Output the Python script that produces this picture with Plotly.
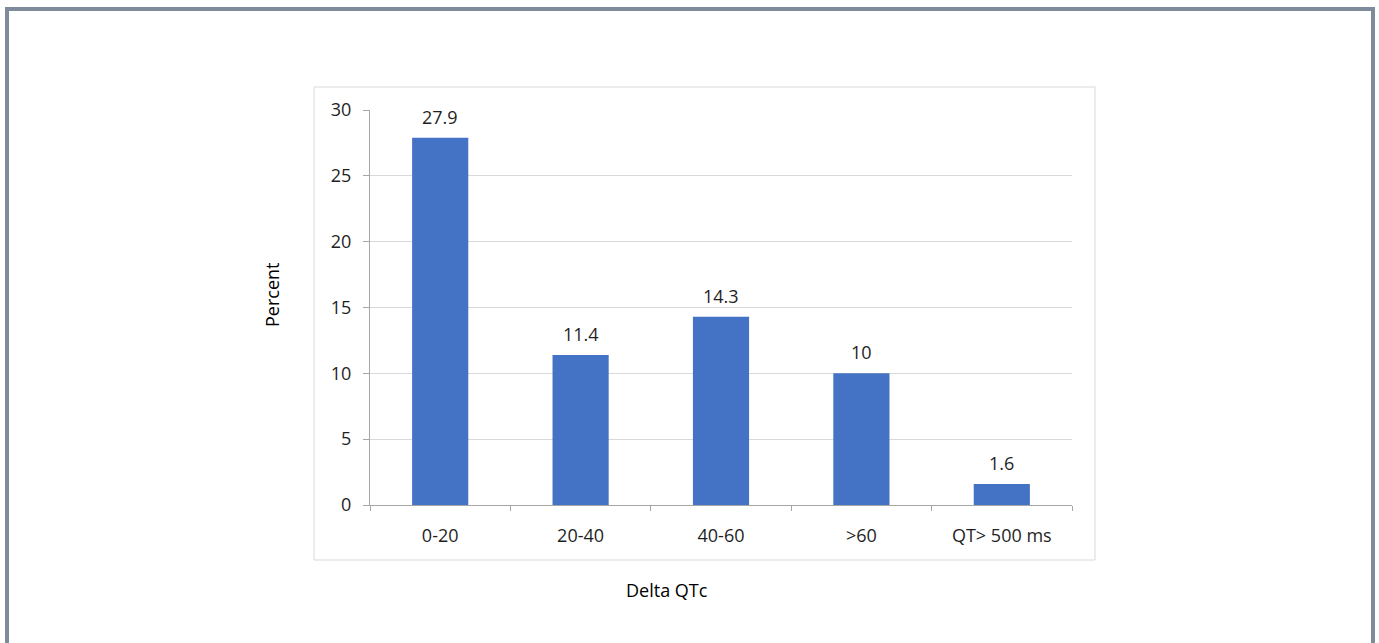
import plotly.graph_objects as go

categories = ["0-20", "20-40", "40-60", ">60", "QT> 500 ms"]
values = [27.9, 11.4, 14.3, 10, 1.6]
value_labels = ["27.9", "11.4", "14.3", "10", "1.6"]
y_ticks = [0, 5, 10, 15, 20, 25, 30]

W, H = 1379, 643
L, R, T, B = 370, 1072, 110, 505
pw, ph = R - L, B - T

def px(x):
    return (x - L) / pw

def py(y):
    return (B - y) / ph

FONT = "Open Sans"
TXT = "#1f1f1f"
FS = 18

fig = go.Figure(go.Bar(
    x=categories, y=values,
    marker=dict(color="#4472C4", line=dict(width=0)),
    width=0.4,
))

annotations = [
    dict(x=c, y=v, xref="x", yref="y", text=t, showarrow=False,
         xanchor="center", yanchor="middle", yshift=21,
         font=dict(family=FONT, size=FS, color=TXT))
    for c, v, t in zip(categories, values, value_labels)
]
annotations += [
    dict(text="Percent", xref="paper", yref="paper", x=px(272), y=py(295),
         xanchor="center", yanchor="middle",
         showarrow=False, textangle=-90, font=dict(family=FONT, size=FS, color="black")),
    dict(text="Delta QTc", xref="paper", yref="paper", x=px(667), y=py(590),
         xanchor="center", yanchor="middle",
         showarrow=False, font=dict(family=FONT, size=FS, color="black")),
]

fig.update_layout(
    width=W, height=H,
    margin=dict(l=L, r=W - R, t=T, b=H - B, pad=0),
    paper_bgcolor="white", plot_bgcolor="white",
    showlegend=False,
    font=dict(family=FONT, size=FS, color=TXT),
    shapes=[
        dict(type="rect", xref="paper", yref="paper",
             x0=px(314), x1=px(1095), y0=py(560), y1=py(87),
             line=dict(color="#d9d9d9", width=1), layer="below"),
        dict(type="line", xref="paper", yref="paper",
             x0=px(7), x1=px(7), y0=py(700), y1=py(7),
             line=dict(color="#7d8b9b", width=4)),
        dict(type="line", xref="paper", yref="paper",
             x0=px(5), x1=px(1375), y0=py(9), y1=py(9),
             line=dict(color="#7d8b9b", width=4)),
        dict(type="line", xref="paper", yref="paper",
             x0=px(1373), x1=px(1373), y0=py(700), y1=py(7),
             line=dict(color="#7d8b9b", width=4)),
    ],
    annotations=annotations,
)

fig.update_xaxes(
    type="category", showline=True, linecolor="#a6a6a6", linewidth=1,
    ticks="outside", tickson="boundaries", ticklen=5, tickcolor="#a6a6a6",
    showgrid=False, tickfont=dict(family=FONT, size=FS, color=TXT),
    ticklabelstandoff=14,
)
fig.update_yaxes(
    range=[0, 30], tickvals=y_ticks, showline=True, linecolor="#a6a6a6", linewidth=1,
    ticks="outside", ticklen=6, tickcolor="#a6a6a6",
    showgrid=True, gridcolor="#d9d9d9", gridwidth=1, zeroline=False,
    tickfont=dict(family=FONT, size=FS, color=TXT), ticklabelstandoff=8,
)

fig.write_html("out.html")
